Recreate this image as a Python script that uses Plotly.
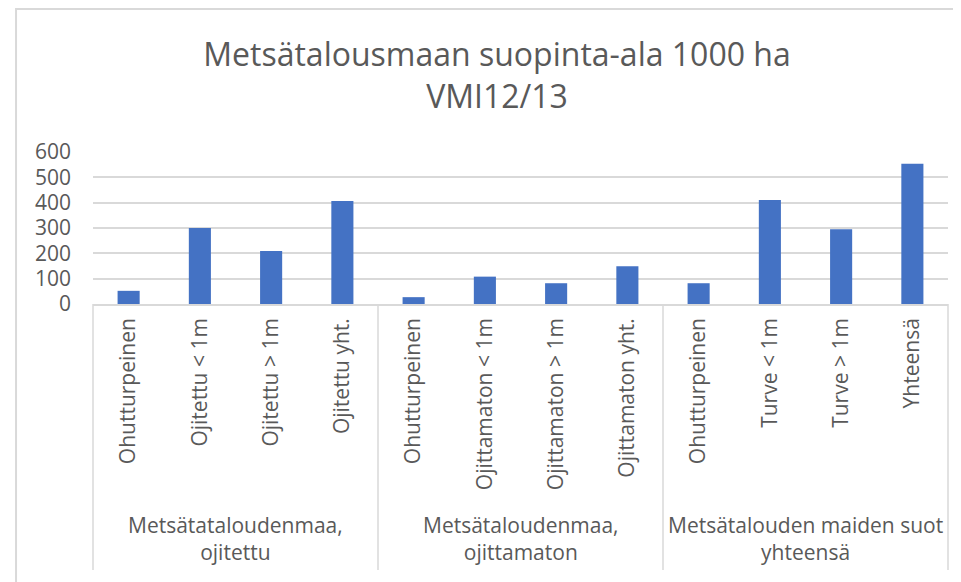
import plotly.graph_objects as go

# ---- data ----
categories = [
    "Ohutturpeinen", "Ojitettu < 1m", "Ojitettu > 1m", "Ojitettu yht.",
    "Ohutturpeinen", "Ojittamaton < 1m", "Ojittamaton > 1m", "Ojittamaton yht.",
    "Ohutturpeinen", "Turve < 1m", "Turve > 1m", "Yhteensä",
]
values = [52, 300, 209, 407, 27, 108, 82, 149, 82, 411, 295, 554]
groups = [
    "Metsätataloudenmaa,<br>ojitettu",
    "Metsätaloudenmaa,<br>ojittamaton",
    "Metsätalouden maiden suot<br>yhteensä",
]
group_sizes = [4, 4, 4]
y_ticks = [0, 100, 200, 300, 400, 500, 600]
title_text = "Metsätalousmaan suopinta-ala 1000 ha<br>VMI12/13"

GRAY = "#595959"
LINE = "#d9d9d9"
BLUE = "#4472C4"
FONT = "Open Sans, sans-serif"

W, H = 953, 574
x_pos = list(range(len(categories)))

fig = go.Figure(go.Bar(
    x=x_pos, y=values, marker=dict(color=BLUE, line=dict(width=0)),
    hoverinfo="y",
))

shapes = []
annotations = []
n = len(categories)
start = 0
bounds = [0]
for g, size in zip(groups, group_sizes):
    center = start + (size - 1) / 2
    annotations.append(dict(
        x=center, xref="x", y=-1.54, yref="paper", text=g, showarrow=False,
        xanchor="center", yanchor="middle", align="center",
        font=dict(family=FONT, size=21, color=GRAY),
    ))
    start += size
    bounds.append(start)
for b in bounds:
    shapes.append(dict(
        type="line", xref="paper", yref="paper", x0=b / n, x1=b / n,
        y0=0, y1=-1.75, line=dict(color=LINE, width=1.5), layer="below",
    ))
# chart frame
shapes.append(dict(
    type="rect", xref="paper", yref="paper", x0=-0.09, x1=1.3, y0=-3, y1=295 / 152,
    line=dict(color=LINE, width=2), fillcolor="rgba(0,0,0,0)", layer="below",
))

fig.update_layout(
    width=W, height=H,
    margin=dict(l=85, r=13, t=144, b=278),
    paper_bgcolor="white", plot_bgcolor="white",
    showlegend=False,
    bargap=0.69,
    title=dict(
        text=title_text, x=489 / W, xref="container", xanchor="center",
        y=1 - 58 / H, yref="container", yanchor="middle",
        font=dict(family=FONT, size=32, color=GRAY),
    ),
    xaxis=dict(
        tickmode="array", tickvals=x_pos, ticktext=categories,
        tickangle=-90, range=[-0.5, n - 0.5],
        showline=True, linecolor=LINE, linewidth=1.5,
        showgrid=False, zeroline=False, ticks="",
        ticklabelstandoff=4,
        tickfont=dict(family=FONT, size=21, color=GRAY),
    ),
    yaxis=dict(
        range=[0, 600], tickvals=y_ticks,
        showgrid=True, gridcolor=LINE, gridwidth=1.5,
        zeroline=False, showline=False, ticks="",
        ticklabelstandoff=21,
        tickfont=dict(family=FONT, size=21, color=GRAY),
    ),
    shapes=shapes,
    annotations=annotations,
)

fig.write_html("out.html")
